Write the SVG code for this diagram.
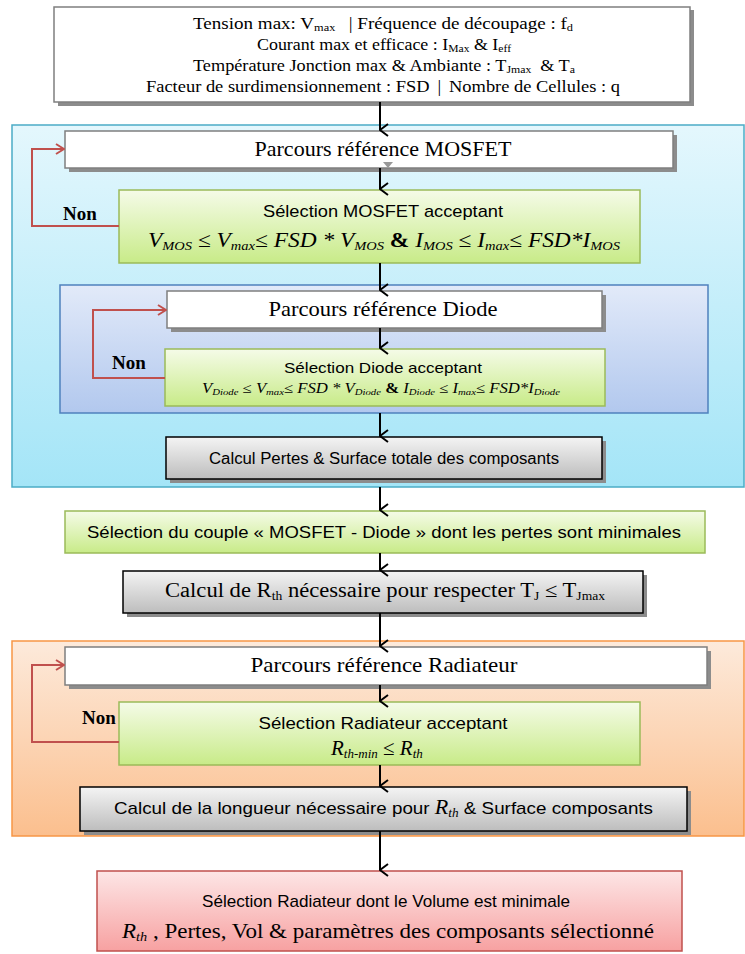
<svg xmlns="http://www.w3.org/2000/svg" width="745" height="954" viewBox="0 0 745 954">
<defs>
<linearGradient id="gBlue" x1="0" y1="0" x2="0" y2="1"><stop offset="0" stop-color="#e4f7fd"/><stop offset="1" stop-color="#a4e5f7"/></linearGradient>
<linearGradient id="gDiode" x1="0" y1="0" x2="0" y2="1"><stop offset="0" stop-color="#e2eaf9"/><stop offset="1" stop-color="#b2c8ee"/></linearGradient>
<linearGradient id="gOrange" x1="0" y1="0" x2="0" y2="1"><stop offset="0" stop-color="#fdeadb"/><stop offset="1" stop-color="#fbbf8e"/></linearGradient>
<linearGradient id="gGreen" x1="0" y1="0" x2="0" y2="1"><stop offset="0" stop-color="#f5fbe8"/><stop offset="1" stop-color="#c8eb88"/></linearGradient>
<linearGradient id="gGray" x1="0" y1="0" x2="0" y2="1"><stop offset="0" stop-color="#f4f4f4"/><stop offset="1" stop-color="#bdbdbd"/></linearGradient>
<linearGradient id="gRed" x1="0" y1="0" x2="0" y2="1"><stop offset="0" stop-color="#fde6e6"/><stop offset="1" stop-color="#f7a1a1"/></linearGradient>
<marker id="arr" viewBox="0 0 14 14" refX="7" refY="13" markerWidth="14" markerHeight="14" markerUnits="userSpaceOnUse" orient="auto-start-reverse">
<path d="M1,5 L7,13 L13,5" fill="none" stroke="#000" stroke-width="2"/>
</marker>
<marker id="arrR" viewBox="0 0 12 12" refX="11" refY="6" markerWidth="12" markerHeight="12" markerUnits="userSpaceOnUse" orient="auto">
<path d="M3,1 L11,6 L3,11" fill="none" stroke="#c0504d" stroke-width="2"/>
</marker>
</defs>
<style>
.serif{font-family:"Liberation Serif","DejaVu Serif",serif;fill:#000}
.sans{font-family:"Liberation Sans","Open Sans",sans-serif;fill:#000}
.it{font-style:italic}
.shadow{fill:#8c8c8c}
.white{fill:#fff;stroke:#7f7f7f;stroke-width:1.5}
.green{fill:url(#gGreen);stroke:#9bbb59;stroke-width:1.5}
.gray{fill:url(#gGray);stroke:#000;stroke-width:1.5}
.conn{stroke:#000;stroke-width:2;fill:none;marker-end:url(#arr)}
.loop{stroke:#c0504d;stroke-width:2;fill:none;marker-end:url(#arrR)}
.non{font-family:"Liberation Serif",serif;font-weight:bold;font-size:19px;fill:#000}
</style>

<!-- sections -->
<g id="section-mosfet">
<rect x="12" y="125" width="732" height="362" fill="url(#gBlue)" stroke="#4bacc6" stroke-width="1.5"/>
</g>
<g id="section-radiateur">
<rect x="12" y="641" width="732" height="195" fill="url(#gOrange)" stroke="#f79646" stroke-width="1.5"/>
</g>

<g id="inputs">
<rect x="58" y="10" width="636" height="96" class="shadow"/>
<rect x="54" y="7" width="636" height="95" fill="#fff" stroke="#7f7f7f" stroke-width="1.5"/>
<text class="serif" font-size="17" x="193" y="29" textLength="380" lengthAdjust="spacingAndGlyphs">Tension max: V<tspan font-size="11" dy="2">max</tspan><tspan dy="-2" dx="12">|  Fréquence de découpage  : f</tspan><tspan font-size="11" dy="2">d</tspan></text>
<text class="serif" font-size="17" x="257" y="50" textLength="254" lengthAdjust="spacingAndGlyphs">Courant max et efficace : I<tspan font-size="11" dy="2">Max</tspan><tspan dy="-2"> &amp; I</tspan><tspan font-size="11" dy="2">eff</tspan></text>
<text class="serif" font-size="17" x="193" y="71" textLength="382" lengthAdjust="spacingAndGlyphs">Température Jonction max &amp; Ambiante : T<tspan font-size="11" dy="2">Jmax</tspan><tspan dy="-2" dx="4"> &amp; T</tspan><tspan font-size="11" dy="2">a</tspan></text>
<text class="serif" font-size="17" x="146" y="92" textLength="474" lengthAdjust="spacingAndGlyphs">Facteur de surdimensionnement : FSD <tspan dx="3">|</tspan><tspan dx="3"> Nombre de Cellules : q</tspan></text>
</g>

<g id="parcours-mosfet">
<rect x="69" y="135" width="608" height="37" class="shadow"/>
<rect x="65" y="131" width="608" height="37" class="white"/>
<path d="M383,162 L393,162 L388,168 Z" fill="#999"/>
<text class="serif" font-size="21" text-anchor="middle" x="383" y="156" textLength="257" lengthAdjust="spacingAndGlyphs">Parcours référence MOSFET</text>
</g>

<g id="selection-mosfet">
<rect x="119" y="190" width="521" height="73" class="green"/>
<text class="sans" font-size="17" text-anchor="middle" x="383" y="217" textLength="240" lengthAdjust="spacingAndGlyphs">Sélection MOSFET acceptant</text>
<text class="serif" font-size="21" x="148" y="247" textLength="472" lengthAdjust="spacingAndGlyphs"><tspan class="it">V</tspan><tspan class="it" font-size="13" dy="3">MOS</tspan><tspan dy="-3"> ≤  </tspan><tspan class="it">V</tspan><tspan class="it" font-size="13" dy="3">max</tspan><tspan dy="-3" class="it">≤ FSD * V</tspan><tspan class="it" font-size="13" dy="3">MOS</tspan><tspan dy="-3" font-weight="bold"> &amp; </tspan><tspan class="it"> I</tspan><tspan class="it" font-size="13" dy="3">MOS</tspan><tspan dy="-3"> ≤  </tspan><tspan class="it">I</tspan><tspan class="it" font-size="13" dy="3">max</tspan><tspan dy="-3" class="it">≤ FSD*I</tspan><tspan class="it" font-size="13" dy="3">MOS</tspan></text>
</g>

<g id="section-diode">
<rect x="60" y="285" width="648" height="128" fill="url(#gDiode)" stroke="#4f81bd" stroke-width="1.5"/>
</g>

<g id="parcours-diode">
<rect x="171" y="295" width="435" height="37" class="shadow"/>
<rect x="167" y="291" width="435" height="37" class="white"/>
<text class="serif" font-size="21" text-anchor="middle" x="383" y="316" textLength="229" lengthAdjust="spacingAndGlyphs">Parcours référence Diode</text>
</g>

<g id="selection-diode">
<rect x="165" y="349" width="440" height="57" class="green"/>
<text class="sans" font-size="15" text-anchor="middle" x="383" y="373" textLength="198" lengthAdjust="spacingAndGlyphs">Sélection Diode acceptant</text>
<text class="serif" font-size="14" x="202" y="393" textLength="358" lengthAdjust="spacingAndGlyphs"><tspan class="it">V</tspan><tspan class="it" font-size="9" dy="2">Diode</tspan><tspan dy="-2"> ≤  </tspan><tspan class="it">V</tspan><tspan class="it" font-size="9" dy="2">max</tspan><tspan dy="-2" class="it">≤ FSD * V</tspan><tspan class="it" font-size="9" dy="2">Diode</tspan><tspan dy="-2" font-weight="bold"> &amp; </tspan><tspan class="it"> I</tspan><tspan class="it" font-size="9" dy="2">Diode</tspan><tspan dy="-2">  ≤  </tspan><tspan class="it">I</tspan><tspan class="it" font-size="9" dy="2">max</tspan><tspan dy="-2" class="it">≤ FSD*I</tspan><tspan class="it" font-size="9" dy="2">Diode</tspan></text>
</g>

<g id="calcul-pertes">
<rect x="170" y="441" width="436" height="42" class="shadow"/>
<rect x="166" y="437" width="436" height="42" class="gray"/>
<text class="sans" font-size="16" text-anchor="middle" x="384" y="464" textLength="350" lengthAdjust="spacingAndGlyphs">Calcul Pertes &amp; Surface totale des composants</text>
</g>

<g id="selection-couple">
<rect x="65" y="511" width="640" height="42" class="green"/>
<text class="sans" font-size="17" text-anchor="middle" x="384" y="538" textLength="594" lengthAdjust="spacingAndGlyphs">Sélection du couple « MOSFET - Diode » dont les pertes sont minimales</text>
</g>

<g id="calcul-rth">
<rect x="127" y="575" width="520" height="42" class="shadow"/>
<rect x="123" y="571" width="520" height="42" class="gray"/>
<text class="serif" font-size="20" x="165" y="597" textLength="440" lengthAdjust="spacingAndGlyphs">Calcul de R<tspan font-size="12" dy="3">th</tspan><tspan dy="-3"> nécessaire pour respecter T</tspan><tspan font-size="12" dy="3">J</tspan><tspan dy="-3"> ≤ T</tspan><tspan font-size="12" dy="3">Jmax</tspan></text>
</g>

<g id="parcours-radiateur">
<rect x="69" y="651" width="642" height="38" class="shadow"/>
<rect x="65" y="647" width="642" height="38" class="white"/>
<text class="serif" font-size="21" text-anchor="middle" x="384" y="672" textLength="267" lengthAdjust="spacingAndGlyphs">Parcours référence Radiateur</text>
</g>

<g id="non-radiateur">
<text class="non" x="82" y="724">Non</text>
</g>

<g id="selection-radiateur">
<rect x="119" y="702" width="521" height="63" class="green"/>
<text class="sans" font-size="17" text-anchor="middle" x="383" y="729" textLength="249" lengthAdjust="spacingAndGlyphs">Sélection Radiateur acceptant</text>
<text class="serif" font-size="21" x="331" y="755"><tspan class="it">R</tspan><tspan class="it" font-size="13" dy="3">th-min</tspan><tspan dy="-3"> ≤  </tspan><tspan class="it">R</tspan><tspan class="it" font-size="13" dy="3">th</tspan></text>
</g>

<g id="calcul-longueur">
<rect x="84" y="791" width="607" height="44" class="shadow"/>
<rect x="80" y="787" width="607" height="44" class="gray"/>
<text class="sans" font-size="17" x="114" y="814" textLength="539" lengthAdjust="spacingAndGlyphs">Calcul de la longueur nécessaire pour <tspan class="serif it" font-size="20">R</tspan><tspan class="serif it" font-size="12" dy="3">th</tspan><tspan dy="-3">  &amp; Surface composants</tspan></text>
</g>

<g id="selection-finale">
<rect x="97" y="871" width="585" height="80" fill="url(#gRed)" stroke="#c0504d" stroke-width="1.5"/>
<text class="sans" font-size="17" text-anchor="middle" x="386" y="907" textLength="368" lengthAdjust="spacingAndGlyphs">Sélection Radiateur dont le Volume est minimale</text>
<text class="serif" font-size="21" x="122" y="938" textLength="532" lengthAdjust="spacingAndGlyphs"><tspan class="it">R</tspan><tspan class="it" font-size="13" dy="3">th</tspan><tspan dy="-3">  , Pertes, Vol &amp; paramètres des composants sélectionné</tspan></text>
</g>

<g id="labels">
<text class="non" x="63" y="220">Non</text>
<text class="non" x="112" y="369">Non</text>
</g>

<g id="connectors">
<line x1="380" y1="102" x2="380" y2="130" class="conn"/>
<line x1="380" y1="168" x2="380" y2="189" class="conn"/>
<line x1="380" y1="263" x2="380" y2="290" class="conn"/>
<line x1="380" y1="328" x2="380" y2="348" class="conn"/>
<line x1="380" y1="413" x2="380" y2="436" class="conn"/>
<line x1="380" y1="487" x2="380" y2="510" class="conn"/>
<line x1="380" y1="553" x2="380" y2="570" class="conn"/>
<line x1="380" y1="613" x2="380" y2="646" class="conn"/>
<line x1="380" y1="685" x2="380" y2="701" class="conn"/>
<line x1="380" y1="765" x2="380" y2="786" class="conn"/>
<line x1="380" y1="831" x2="380" y2="870" class="conn"/>
<polyline points="119,226 32,226 32,149 64,149" class="loop"/>
<polyline points="165,378 93,378 93,310 166,310" class="loop"/>
<polyline points="119,742 32,742 32,665 64,665" class="loop"/>
</g>
</svg>
